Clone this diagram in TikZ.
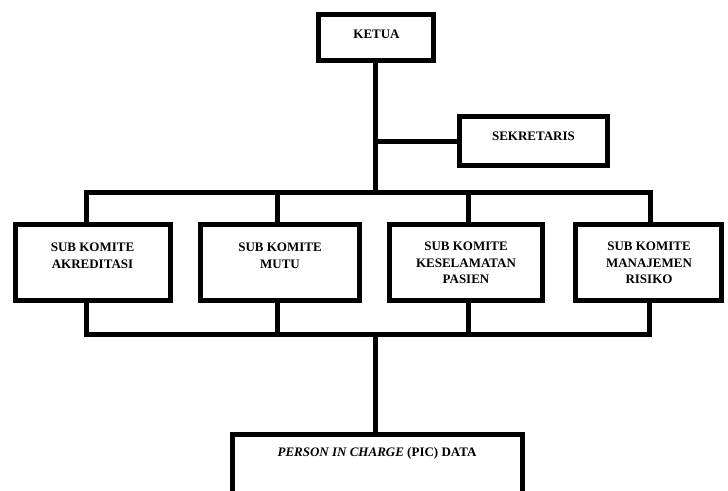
\documentclass[tikz,border=0pt]{standalone}
\usepackage{fontspec}
\setmainfont{Liberation Serif}
\begin{document}
\begin{tikzpicture}[x=1pt,y=-1pt,
  box/.style={draw=black,line width=5pt,rectangle,inner sep=0pt,fill=white},
  lbl/.style={anchor=north,inner sep=0pt,align=center,
    font=\fontsize{13}{16.5}\selectfont\bfseries},
  conn/.style={draw=black,line width=5pt,line join=miter}]
\useasboundingbox (0,0) rectangle (728,490);
\clip (0,0) rectangle (728,490);
% coordinates for connector routing
\coordinate (jsek) at (375,141);
\coordinate (busT) at (375,192.5);
\coordinate (busB) at (375,334.5);
\coordinate (t1) at (86,192.5);
\coordinate (t2) at (277,192.5);
\coordinate (t3) at (468,192.5);
\coordinate (t4) at (650,192.5);
\coordinate (u1) at (86.5,334.5);
\coordinate (u2) at (277,334.5);
\coordinate (u3) at (468,334.5);
\coordinate (u4) at (649,334.5);
% boxes
\node[box,minimum width=115pt,minimum height=46pt] (ketua) at (375.5,37.5) {};
\node[box,minimum width=148pt,minimum height=49pt] (sek) at (533.5,141) {};
\node[box,minimum width=155pt,minimum height=76pt] (b1) at (93,262.5) {};
\node[box,minimum width=159pt,minimum height=76pt] (b2) at (280,262.5) {};
\node[box,minimum width=153pt,minimum height=76pt] (b3) at (466,262.5) {};
\node[box,minimum width=146pt,minimum height=76pt] (b4) at (648.5,262.5) {};
\node[box,minimum width=290pt,minimum height=90pt] (pic) at (377.5,479.5) {};
% labels
\node[lbl] (lketua) at (376.5,30) {KETUA};
\node[lbl] (lsek) at (533.5,131.5) {SEKRETARIS};
\node[lbl] (l1) at (92.5,243) {SUB KOMITE\\AKREDITASI};
\node[lbl] (l2) at (280,243) {SUB KOMITE\\MUTU};
\node[lbl] (l3) at (466,242) {SUB KOMITE\\KESELAMATAN\\PASIEN};
\node[lbl] (l4) at (649,242) {SUB KOMITE\\MANAJEMEN\\RISIKO};
\node[lbl] (lpic) at (377,447) {\textit{PERSON IN CHARGE} (PIC) DATA};
% connectors
\draw[conn] (ketua.south -| busT) -- (busT);
\draw[conn] (jsek) -- (sek.west |- jsek);
\draw[conn] (b1.north -| t1) -- (t1) -- (t4) -- (b4.north -| t4);
\draw[conn] (t2) -- (b2.north -| t2);
\draw[conn] (t3) -- (b3.north -| t3);
\draw[conn] (b1.south -| u1) -- (u1) -- (u4) -- (b4.south -| u4);
\draw[conn] (b2.south -| u2) -- (u2);
\draw[conn] (b3.south -| u3) -- (u3);
\draw[conn] (busB) -- (pic.north -| busB);
\end{tikzpicture}
\end{document}
